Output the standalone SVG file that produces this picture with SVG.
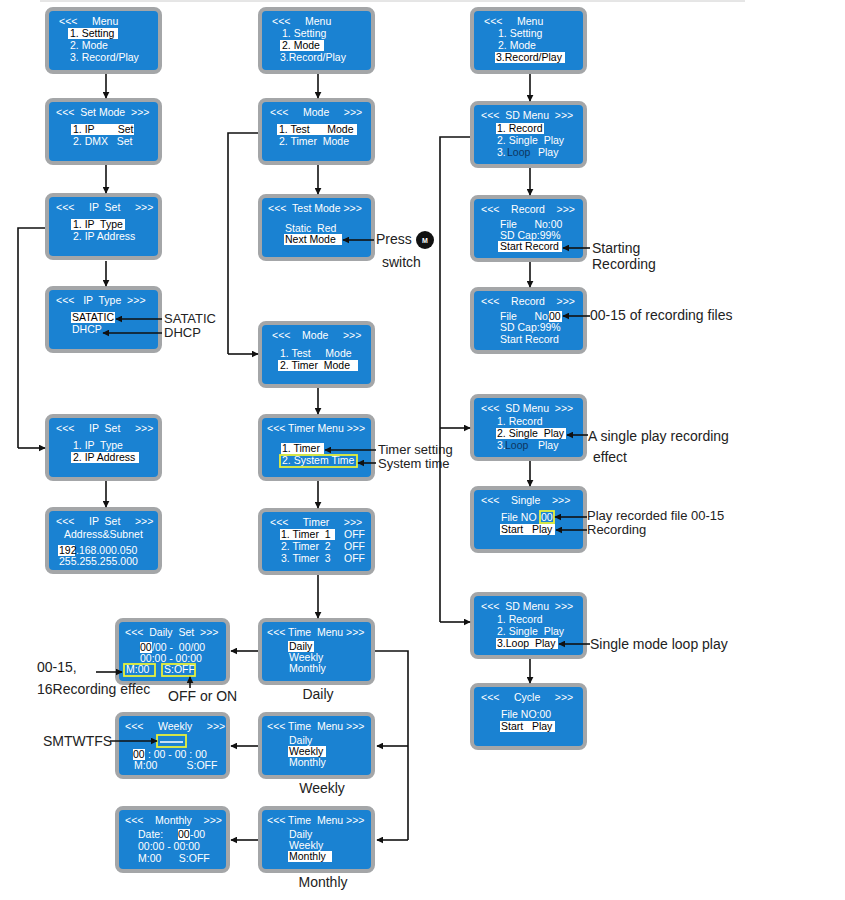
<svg xmlns="http://www.w3.org/2000/svg" width="845" height="900" viewBox="0 0 845 900">
<defs>
<marker id="a" viewBox="0 0 10 10" refX="9" refY="5" markerWidth="7" markerHeight="7" orient="auto" markerUnits="userSpaceOnUse"><path d="M0,0L10,5L0,10z" fill="#111"/></marker>
<style>
.b{fill:#1a82d2;stroke:#a4a6a8;stroke-width:4}
text{font-family:"Liberation Sans",Arial,sans-serif}
.t{fill:#fff;font-size:10.5px}
.k{fill:#000;font-size:10.5px}
.d{fill:#0d3560;font-size:10.5px}
.hl{fill:#fff}
.y{fill:none;stroke:#e8f03a;stroke-width:1.8}
.l{fill:#222;font-size:14px}
.s{fill:#222;font-size:13px}
.c{fill:none;stroke:#111;stroke-width:1.6}
.ca{fill:none;stroke:#111;stroke-width:1.6;marker-end:url(#a)}
</style>
</defs>
<rect width="845" height="900" fill="#fff"/>
<line x1="40" y1="1" x2="745" y2="1" stroke="#ccc"/>

<g id="L1" transform="translate(47,9)"><rect class="b" width="113" height="63" rx="6"/>
<text class="t" x="12" y="16">&lt;&lt;&lt;</text><text class="t" x="45" y="16">Menu</text>
<rect class="hl" x="21" y="19" width="50" height="11"/><text class="k" x="23" y="28">1. Setting</text>
<text class="t" x="23" y="40">2. Mode</text><text class="t" x="23" y="52">3. Record/Play</text></g>

<g id="L2" transform="translate(47,100)"><rect class="b" width="113" height="63" rx="6"/>
<text class="t" x="9" y="16" xml:space="preserve">&lt;&lt;&lt;  Set Mode  &gt;&gt;&gt;</text>
<rect class="hl" x="24" y="24" width="63" height="11"/><text class="k" x="26" y="33" xml:space="preserve">1. IP        Set</text>
<text class="t" x="26" y="45" xml:space="preserve">2. DMX   Set</text></g>

<g id="L3" transform="translate(47,195)"><rect class="b" width="113" height="63" rx="6"/>
<text class="t" x="9" y="16" xml:space="preserve">&lt;&lt;&lt;     IP  Set     &gt;&gt;&gt;</text>
<rect class="hl" x="24" y="24" width="54" height="11"/><text class="k" x="26" y="33" xml:space="preserve">1. IP  Type</text>
<text class="t" x="26" y="45">2. IP Address</text></g>

<g id="L4" transform="translate(47,288)"><rect class="b" width="113" height="63" rx="6"/>
<text class="t" x="9" y="16" xml:space="preserve">&lt;&lt;&lt;   IP  Type  &gt;&gt;&gt;</text>
<rect class="hl" x="24" y="24" width="44" height="11"/><text class="k" x="25" y="33">SATATIC</text>
<text class="t" x="25" y="45">DHCP</text></g>
<g id="L4lab"><text class="s" x="164" y="323">SATATIC</text><text class="s" x="164" y="337">DHCP</text></g>

<g id="L5" transform="translate(47,416)"><rect class="b" width="113" height="63" rx="6"/>
<text class="t" x="9" y="16" xml:space="preserve">&lt;&lt;&lt;     IP  Set     &gt;&gt;&gt;</text>
<text class="t" x="26" y="33" xml:space="preserve">1. IP  Type</text>
<rect class="hl" x="24" y="36" width="68" height="11"/><text class="k" x="26" y="45">2. IP Address</text></g>

<g id="L6" transform="translate(47,509)"><rect class="b" width="113" height="63" rx="6"/>
<text class="t" x="9" y="16" xml:space="preserve">&lt;&lt;&lt;     IP  Set     &gt;&gt;&gt;</text>
<text class="t" x="17" y="29">Address&amp;Subnet</text>
<rect class="hl" x="11" y="36" width="17" height="11"/><text class="k" x="12" y="45">192</text><text class="t" x="29" y="45">.168.000.050</text>
<text class="t" x="12" y="56">255.255.255.000</text></g>

<g id="M1" transform="translate(260,9)"><rect class="b" width="113" height="63" rx="6"/>
<text class="t" x="12" y="16">&lt;&lt;&lt;</text><text class="t" x="45" y="16">Menu</text>
<text class="t" x="22" y="28">1. Setting</text>
<rect class="hl" x="20" y="31" width="44" height="11"/><text class="k" x="22" y="40">2. Mode</text>
<text class="t" x="20" y="52">3.Record/Play</text></g>

<g id="M2" transform="translate(260,100)"><rect class="b" width="113" height="63" rx="6"/>
<text class="t" x="10" y="16" xml:space="preserve">&lt;&lt;&lt;     Mode     &gt;&gt;&gt;</text>
<rect class="hl" x="17" y="24" width="80" height="11"/><text class="k" x="19" y="33" xml:space="preserve">1. Test      Mode</text>
<text class="t" x="19" y="45" xml:space="preserve">2. Timer  Mode</text></g>

<g id="M3" transform="translate(260,196)"><rect class="b" width="113" height="63" rx="6"/>
<text class="t" x="8" y="16" xml:space="preserve">&lt;&lt;&lt;  Test Mode &gt;&gt;&gt;</text>
<text class="t" x="25" y="36" xml:space="preserve">Static  Red</text>
<rect class="hl" x="24" y="38" width="58" height="11"/><text class="k" x="25" y="47">Next Mode</text></g>
<g id="press"><text class="l" x="376" y="244">Press</text><circle cx="425" cy="240" r="9" fill="#111"/><text x="425" y="243" text-anchor="middle" fill="#fff" font-size="7" font-weight="bold" font-family="Liberation Sans,sans-serif">M</text><text class="l" x="382" y="267">switch</text></g>

<g id="M4" transform="translate(260,323)"><rect class="b" width="113" height="63" rx="6"/>
<text class="t" x="12" y="16" xml:space="preserve">&lt;&lt;&lt;    Mode     &gt;&gt;&gt;</text>
<text class="t" x="20" y="34" xml:space="preserve">1. Test     Mode</text>
<rect class="hl" x="18" y="37" width="80" height="11"/><text class="k" x="20" y="46" xml:space="preserve">2. Timer  Mode</text></g>

<g id="M5" transform="translate(260,416)"><rect class="b" width="113" height="63" rx="6"/>
<text class="t" x="7" y="16">&lt;&lt;&lt; Timer Menu &gt;&gt;&gt;</text>
<rect class="hl" x="21" y="27" width="43" height="11"/><text class="k" x="22" y="36">1. Timer</text>
<rect class="y" x="20" y="39" width="77" height="12"/><text class="t" x="22" y="48">2. System Time</text></g>
<g id="M5lab"><text class="s" x="378" y="454">Timer setting</text><text class="s" x="378" y="468">System time</text></g>

<g id="M6" transform="translate(260,510)"><rect class="b" width="113" height="63" rx="6"/>
<text class="t" x="10" y="16" xml:space="preserve">&lt;&lt;&lt;     Timer     &gt;&gt;&gt;</text>
<rect class="hl" x="20" y="19" width="55" height="11"/><text class="k" x="21" y="28" xml:space="preserve">1. Timer  1</text><text class="t" x="84" y="28">OFF</text>
<text class="t" x="21" y="40" xml:space="preserve">2. Timer  2</text><text class="t" x="84" y="40">OFF</text>
<text class="t" x="21" y="52" xml:space="preserve">3. Timer  3</text><text class="t" x="84" y="52">OFF</text></g>

<g id="M7" transform="translate(260,620)"><rect class="b" width="113" height="63" rx="6"/>
<text class="t" x="7" y="16" xml:space="preserve">&lt;&lt;&lt; Time  Menu &gt;&gt;&gt;</text>
<rect class="hl" x="28" y="21" width="26" height="11"/><text class="k" x="29" y="30">Daily</text>
<text class="t" x="29" y="41">Weekly</text><text class="t" x="29" y="52">Monthly</text></g>
<text class="l" x="318" y="699" text-anchor="middle">Daily</text>

<g id="M8" transform="translate(260,714)"><rect class="b" width="113" height="63" rx="6"/>
<text class="t" x="7" y="16" xml:space="preserve">&lt;&lt;&lt; Time  Menu &gt;&gt;&gt;</text>
<text class="t" x="29" y="30">Daily</text>
<rect class="hl" x="28" y="32" width="38" height="11"/><text class="k" x="29" y="41">Weekly</text><text class="t" x="29" y="52">Monthly</text></g>
<text class="l" x="322" y="793" text-anchor="middle">Weekly</text>

<g id="M9" transform="translate(260,808)"><rect class="b" width="113" height="63" rx="6"/>
<text class="t" x="7" y="16" xml:space="preserve">&lt;&lt;&lt; Time  Menu &gt;&gt;&gt;</text>
<text class="t" x="29" y="30">Daily</text><text class="t" x="29" y="41">Weekly</text>
<rect class="hl" x="28" y="43" width="44" height="11"/><text class="k" x="29" y="52">Monthly</text></g>
<text class="l" x="323" y="887" text-anchor="middle">Monthly</text>

<g id="D1" transform="translate(117,620)"><rect class="b" width="111" height="63" rx="6"/>
<text class="t" x="8" y="16" xml:space="preserve">&lt;&lt;&lt;  Daily  Set  &gt;&gt;&gt;</text>
<rect class="hl" x="23" y="22" width="12" height="11"/><text class="k" x="23" y="31">00</text><text class="t" x="35" y="31" xml:space="preserve">/00 -  00/00</text>
<text class="t" x="23" y="42">00:00 - 00:00</text>
<rect class="y" x="7" y="44" width="31" height="12"/><text class="t" x="9" y="53">M:00</text>
<rect class="y" x="45" y="44" width="33" height="12"/><text class="t" x="47" y="53">S:OFF</text></g>
<g id="D1lab"><text class="l" x="37" y="672">00-15,</text><text class="l" x="37" y="694">16Recording effec</text><text class="l" x="168" y="701">OFF or ON</text></g>

<g id="D2" transform="translate(117,714)"><rect class="b" width="111" height="63" rx="6"/>
<text class="t" x="8" y="16" xml:space="preserve">&lt;&lt;&lt;     Weekly     &gt;&gt;&gt;</text>
<rect class="y" x="40" y="21" width="29" height="12"/><line x1="43" y1="28" x2="66" y2="28" stroke="#fff" stroke-width="1.5"/>
<rect class="hl" x="16" y="35" width="12" height="11"/><text class="k" x="16" y="44">00</text><text class="t" x="28" y="44" xml:space="preserve"> : 00 - 00 : 00</text>
<text class="t" x="17" y="55" xml:space="preserve">M:00          S:OFF</text></g>
<text class="l" x="43" y="746">SMTWTFS</text>

<g id="D3" transform="translate(117,808)"><rect class="b" width="111" height="63" rx="6"/>
<text class="t" x="8" y="16" xml:space="preserve">&lt;&lt;&lt;    Monthly    &gt;&gt;&gt;</text>
<text class="t" x="21" y="30">Date:</text>
<rect class="hl" x="61" y="21" width="12" height="11"/><text class="k" x="61" y="30">00</text><text class="t" x="73" y="30">-00</text>
<text class="t" x="21" y="42">00:00 - 00:00</text>
<text class="t" x="21" y="54" xml:space="preserve">M:00      S:OFF</text></g>

<g id="R1" transform="translate(472,9)"><rect class="b" width="113" height="63" rx="6"/>
<text class="t" x="12" y="16">&lt;&lt;&lt;</text><text class="t" x="45" y="16">Menu</text>
<text class="t" x="26" y="28">1. Setting</text><text class="t" x="26" y="40">2. Mode</text>
<rect class="hl" x="23" y="43" width="70" height="11"/><text class="k" x="24" y="52">3.Record/Play</text></g>

<g id="R2" transform="translate(472,103)"><rect class="b" width="113" height="63" rx="6"/>
<text class="t" x="9" y="16" xml:space="preserve">&lt;&lt;&lt;  SD Menu  &gt;&gt;&gt;</text>
<rect class="hl" x="24" y="20" width="48" height="11"/><text class="k" x="25" y="29">1. Record</text>
<text class="t" x="25" y="41" xml:space="preserve">2. Single  Play</text>
<text class="t" x="25" y="53">3.</text><text class="d" x="35" y="53">Loop</text><text class="t" x="66" y="53">Play</text></g>

<g id="R3" transform="translate(472,197)"><rect class="b" width="113" height="63" rx="6"/>
<text class="t" x="9" y="16" xml:space="preserve">&lt;&lt;&lt;    Record    &gt;&gt;&gt;</text>
<text class="t" x="28" y="31" xml:space="preserve">File      No:00</text>
<text class="t" x="28" y="42">SD Cap:99%</text>
<rect class="hl" x="26" y="44" width="64" height="11"/><text class="k" x="28" y="53">Start Record</text></g>
<g id="R3lab"><text class="l" x="592" y="253">Starting</text><text class="l" x="592" y="269">Recording</text></g>

<g id="R4" transform="translate(472,289)"><rect class="b" width="113" height="63" rx="6"/>
<text class="t" x="9" y="16" xml:space="preserve">&lt;&lt;&lt;    Record    &gt;&gt;&gt;</text>
<text class="t" x="28" y="31" xml:space="preserve">File      No:</text>
<rect class="hl" x="77" y="22" width="13" height="11"/><text class="k" x="77" y="31">00</text>
<text class="t" x="28" y="42">SD Cap:99%</text><text class="t" x="28" y="54">Start Record</text></g>
<text class="l" x="590" y="320">00-15 of recording files</text>

<g id="R5" transform="translate(472,396)"><rect class="b" width="113" height="63" rx="6"/>
<text class="t" x="9" y="16" xml:space="preserve">&lt;&lt;&lt;  SD Menu  &gt;&gt;&gt;</text>
<text class="t" x="25" y="29">1. Record</text>
<rect class="hl" x="24" y="32" width="70" height="11"/><text class="k" x="25" y="41" xml:space="preserve">2. Single  Play</text>
<text class="t" x="25" y="53">3.</text><text class="d" x="33" y="53">Loop</text><text class="t" x="66" y="53">Play</text></g>
<g id="R5lab"><text class="l" x="588" y="441">A single play recording</text><text class="l" x="593" y="462">effect</text></g>

<g id="R6" transform="translate(472,488)"><rect class="b" width="113" height="63" rx="6"/>
<text class="t" x="9" y="16" xml:space="preserve">&lt;&lt;&lt;    Single    &gt;&gt;&gt;</text>
<text class="t" x="29" y="33">File  NO</text>
<rect class="y" x="68" y="23" width="14" height="12"/><text class="t" x="69" y="33">00</text>
<rect class="hl" x="28" y="36" width="55" height="11"/><text class="k" x="29" y="45" xml:space="preserve">Start   Play</text></g>
<g id="R6lab"><text class="s" x="587" y="520">Play recorded file 00-15</text><text class="s" x="587" y="534">Recording</text></g>

<g id="R7" transform="translate(472,594)"><rect class="b" width="113" height="63" rx="6"/>
<text class="t" x="9" y="16" xml:space="preserve">&lt;&lt;&lt;  SD Menu  &gt;&gt;&gt;</text>
<text class="t" x="25" y="29">1. Record</text>
<text class="t" x="25" y="41" xml:space="preserve">2. Single  Play</text>
<rect class="hl" x="24" y="44" width="62" height="11"/><text class="k" x="25" y="53" xml:space="preserve">3.Loop  Play</text></g>
<text class="l" x="590" y="649">Single mode loop play</text>

<g id="R8" transform="translate(472,685)"><rect class="b" width="113" height="63" rx="6"/>
<text class="t" x="9" y="16" xml:space="preserve">&lt;&lt;&lt;     Cycle     &gt;&gt;&gt;</text>
<text class="t" x="29" y="33">File NO:00</text>
<rect class="hl" x="28" y="36" width="55" height="11"/><text class="k" x="29" y="45" xml:space="preserve">Start   Play</text></g>

<g id="connectors">
<path class="ca" d="M106,74V98"/><path class="ca" d="M106,165V193"/><path class="ca" d="M106,261V286"/>
<path class="c" d="M45,228H18V448"/><path class="ca" d="M18,448H45"/>
<path class="ca" d="M106,481V507"/>
<path class="ca" d="M318,74V98"/><path class="ca" d="M318,165V194"/>
<path class="c" d="M258,133H228V354"/><path class="ca" d="M228,354H258"/>
<path class="ca" d="M318,388V414"/><path class="ca" d="M318,481V508"/><path class="ca" d="M318,575V618"/>
<path class="c" d="M375,651H408V840"/><path class="ca" d="M408,746H377"/><path class="ca" d="M408,840H377"/>
<path class="ca" d="M258,651H231"/><path class="ca" d="M258,746H231"/><path class="ca" d="M258,840H231"/>
<path class="ca" d="M530,74V101"/><path class="ca" d="M530,168V195"/><path class="ca" d="M530,262V287"/>
<path class="c" d="M470,137H440V622"/><path class="ca" d="M440,428H470"/><path class="ca" d="M440,622H470"/>
<path class="ca" d="M530,461V486"/><path class="ca" d="M530,659V683"/>
<path class="ca" d="M162,319H116"/><path class="ca" d="M162,333H103"/>
<path class="ca" d="M374,240H343"/>
<path class="ca" d="M376,450H325"/><path class="ca" d="M376,463H358"/>
<path class="ca" d="M96,672H122"/><path class="ca" d="M190,688V677"/><path class="ca" d="M110,741H157"/>
<path class="ca" d="M590,248H563"/><path class="ca" d="M590,316H563"/><path class="ca" d="M588,435H567"/>
<path class="ca" d="M587,517H555"/><path class="ca" d="M587,530H556"/><path class="ca" d="M590,644H559"/>
</g>
</svg>
